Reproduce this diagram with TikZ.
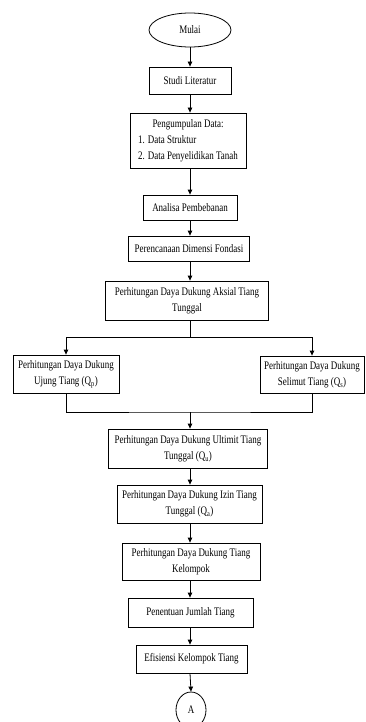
\documentclass[tikz,border=0pt]{standalone}
\usepackage{fontspec}
\setmainfont[FakeStretch=0.78]{Liberation Serif}
\usetikzlibrary{arrows.meta,shapes.geometric}
\begin{document}
\begin{tikzpicture}[x=1pt,y=-1pt,
  every node/.style={font=\fontsize{11.5}{16}\selectfont},
  box/.style={draw,line width=0.8pt,inner sep=0pt,align=center},
  term/.style={draw,ellipse,line width=0.8pt,inner sep=0pt},
  arr/.style={line width=0.8pt,-{Triangle[length=5pt,width=4.5pt]}},
  ln/.style={line width=0.8pt}]
\clip (0,0) rectangle (365,722);
\fill[white] (0,0) rectangle (365,722);
\node[term,minimum width=82pt,minimum height=34pt] (mulai) at (190,30) {Mulai};
\node[box,minimum width=82pt,minimum height=27pt] (studi) at (190,80.5) {Studi Literatur};
\node[box,minimum width=116pt,minimum height=55pt] (data) at (188,140.5)
  {\begin{tabular}{@{}l@{}}\multicolumn{1}{@{}c@{}}{Pengumpulan Data:}\\1. Data Struktur\\2. Data Penyelidikan Tanah\end{tabular}};
\node[box,minimum width=94pt,minimum height=25pt] (analisa) at (190,207.5) {Analisa Pembebanan};
\node[box,minimum width=121pt,minimum height=25pt] (dimensi) at (189,248.5) {Perencanaan Dimensi Fondasi};
\node[box,minimum width=163pt,minimum height=39pt] (aksial) at (187,300.5) {Perhitungan Daya Dukung Aksial Tiang\\Tunggal};
\node[box,minimum width=106pt,minimum height=38pt] (ujung) at (66,374) {Perhitungan Daya Dukung\\Ujung Tiang (Q\textsubscript{p})};
\node[box,minimum width=104pt,minimum height=37pt] (selimut) at (312,374.5) {Perhitungan Daya Dukung\\Selimut Tiang (Q\textsubscript{s})};
\node[box,minimum width=159pt,minimum height=39pt] (ultimit) at (188,448.5) {Perhitungan Daya Dukung Ultimit Tiang\\Tunggal (Q\textsubscript{u})};
\node[box,minimum width=145pt,minimum height=38pt] (izin) at (189.5,504) {Perhitungan Daya Dukung Izin Tiang\\Tunggal (Q\textsubscript{a})};
\node[box,minimum width=138pt,minimum height=37pt] (kelompok) at (191,561.5) {Perhitungan Daya Dukung Tiang\\Kelompok};
\node[box,minimum width=125pt,minimum height=29pt] (jumlah) at (190.5,612.5) {Penentuan Jumlah Tiang};
\node[box,minimum width=111pt,minimum height=28pt] (efisiensi) at (191.5,659) {Efisiensi Kelompok Tiang};
\node[term,minimum width=30pt,minimum height=36pt] (A) at (191,710) {A};
\coordinate (h2) at (190,412);
\draw[arr] (mulai.south) -- (studi.north);
\draw[arr] (studi.south) -- (studi.south |- data.north);
\draw[arr] (studi.south |- data.south) -- (studi.south |- analisa.north);
\draw[arr] (analisa.south) -- (analisa.south |- dimensi.north);
\draw[arr] (analisa.south |- dimensi.south) -- (analisa.south |- aksial.north);
\draw[arr] (analisa.south |- aksial.south) -- ++(0,17) -| (ujung.north);
\draw[arr] (analisa.south |- aksial.south) -- ++(0,17) -| (selimut.north);
\draw[ln] (ujung.south) |- (h2) -| (selimut.south);
\draw[arr] (h2) -- (h2 |- ultimit.north);
\draw[arr] (h2 |- ultimit.south) -- (h2 |- izin.north);
\draw[arr] (h2 |- izin.south) -- (h2 |- kelompok.north);
\draw[arr] (h2 |- kelompok.south) -- (h2 |- jumlah.north);
\draw[arr] (h2 |- jumlah.south) -- (h2 |- efisiensi.north);
\draw[arr] (h2 |- efisiensi.south) -- (A.north);
\end{tikzpicture}
\end{document}
